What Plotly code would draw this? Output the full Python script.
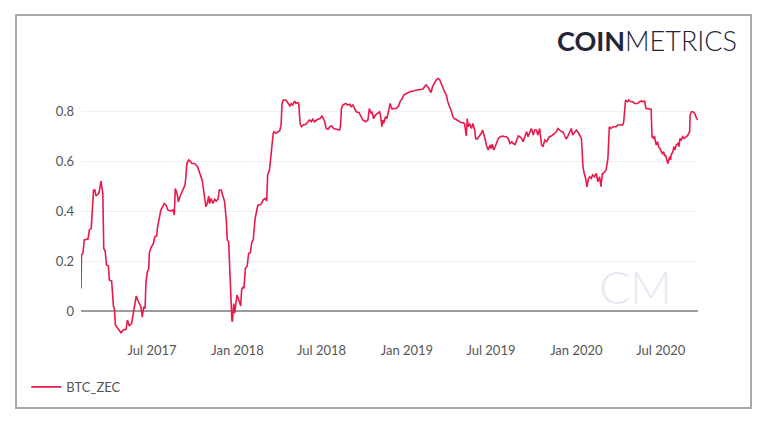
import plotly.graph_objects as go

# BTC_ZEC correlation
dates = [
    "2017-01-29", "2017-01-30", "2017-02-02", "2017-02-05", "2017-02-13", "2017-02-16", "2017-02-20",
    "2017-02-23", "2017-02-25", "2017-02-28", "2017-03-02", "2017-03-08", "2017-03-10", "2017-03-13",
    "2017-03-15", "2017-03-17", "2017-03-19", "2017-03-22", "2017-03-25", "2017-03-29", "2017-03-31",
    "2017-04-05", "2017-04-09", "2017-04-11", "2017-04-13", "2017-04-16", "2017-04-22", "2017-04-25",
    "2017-04-30", "2017-05-06", "2017-05-09", "2017-05-13", "2017-05-18", "2017-05-22", "2017-05-25",
    "2017-05-28", "2017-05-31", "2017-06-03", "2017-06-07", "2017-06-10", "2017-06-13", "2017-06-16",
    "2017-06-18", "2017-06-21", "2017-06-24", "2017-06-25", "2017-06-28", "2017-07-02", "2017-07-04",
    "2017-07-07", "2017-07-11", "2017-07-13", "2017-07-17", "2017-07-20", "2017-07-24", "2017-07-27",
    "2017-07-31", "2017-08-04", "2017-08-09", "2017-08-15", "2017-08-18", "2017-08-20", "2017-08-24",
    "2017-08-27", "2017-08-30", "2017-09-03", "2017-09-07", "2017-09-10", "2017-09-12", "2017-09-14",
    "2017-09-18", "2017-09-21", "2017-09-25", "2017-09-30", "2017-10-04", "2017-10-07", "2017-10-12",
    "2017-10-17", "2017-10-19", "2017-10-23", "2017-10-25", "2017-10-28", "2017-10-31", "2017-11-02",
    "2017-11-05", "2017-11-09", "2017-11-13", "2017-11-16", "2017-11-20", "2017-11-23", "2017-11-27",
    "2017-11-30", "2017-12-04", "2017-12-08", "2017-12-10", "2017-12-13", "2017-12-15", "2017-12-17",
    "2017-12-20", "2017-12-21", "2017-12-24", "2017-12-26", "2017-12-28", "2017-12-31", "2018-01-03",
    "2018-01-06", "2018-01-08", "2018-01-10", "2018-01-13", "2018-01-15", "2018-01-18", "2018-01-22",
    "2018-01-25", "2018-01-29", "2018-02-01", "2018-02-04", "2018-02-06", "2018-02-08", "2018-02-11",
    "2018-02-14", "2018-02-18", "2018-02-22", "2018-02-25", "2018-03-02", "2018-03-05", "2018-03-07",
    "2018-03-11", "2018-03-13", "2018-03-16", "2018-03-19", "2018-03-21", "2018-03-25", "2018-03-29",
    "2018-04-02", "2018-04-05", "2018-04-07", "2018-04-10", "2018-04-15", "2018-04-18", "2018-04-20",
    "2018-04-24", "2018-04-27", "2018-04-30", "2018-05-04", "2018-05-07", "2018-05-11", "2018-05-13",
    "2018-05-16", "2018-05-19", "2018-05-23", "2018-05-28", "2018-06-02", "2018-06-05", "2018-06-09",
    "2018-06-12", "2018-06-16", "2018-06-20", "2018-06-23", "2018-06-28", "2018-07-02", "2018-07-05",
    "2018-07-08", "2018-07-11", "2018-07-15", "2018-07-19", "2018-07-23", "2018-07-27", "2018-08-02",
    "2018-08-09", "2018-08-11", "2018-08-13", "2018-08-16", "2018-08-22", "2018-08-27", "2018-08-31",
    "2018-09-03", "2018-09-07", "2018-09-10", "2018-09-14", "2018-09-20", "2018-09-23", "2018-09-28",
    "2018-10-04", "2018-10-09", "2018-10-12", "2018-10-16", "2018-10-18", "2018-10-21", "2018-10-25",
    "2018-10-30", "2018-11-03", "2018-11-05", "2018-11-08", "2018-11-10", "2018-11-12", "2018-11-16",
    "2018-11-19", "2018-11-23", "2018-11-26", "2018-11-28", "2018-11-30", "2018-12-04", "2018-12-09",
    "2018-12-14", "2018-12-17", "2018-12-22", "2018-12-25", "2018-12-31", "2019-01-07", "2019-01-14",
    "2019-01-21", "2019-01-28", "2019-02-04", "2019-02-08", "2019-02-11", "2019-02-15", "2019-02-18",
    "2019-02-22", "2019-02-25", "2019-03-02", "2019-03-05", "2019-03-09", "2019-03-12", "2019-03-16",
    "2019-03-19", "2019-03-23", "2019-03-27", "2019-03-30", "2019-04-03", "2019-04-06", "2019-04-10",
    "2019-04-13", "2019-04-17", "2019-04-21", "2019-04-24", "2019-04-28", "2019-05-02", "2019-05-05",
    "2019-05-09", "2019-05-11", "2019-05-13", "2019-05-16", "2019-05-20", "2019-05-23", "2019-05-27",
    "2019-05-29", "2019-06-01", "2019-06-05", "2019-06-10", "2019-06-13", "2019-06-16", "2019-06-19",
    "2019-06-21", "2019-06-25", "2019-06-29", "2019-07-01", "2019-07-04", "2019-07-07", "2019-07-10",
    "2019-07-13", "2019-07-17", "2019-07-21", "2019-07-26", "2019-07-31", "2019-08-03", "2019-08-07",
    "2019-08-11", "2019-08-15", "2019-08-18", "2019-08-22", "2019-08-26", "2019-08-29", "2019-09-01",
    "2019-09-05", "2019-09-08", "2019-09-12", "2019-09-16", "2019-09-19", "2019-09-23", "2019-09-26",
    "2019-09-30", "2019-10-03", "2019-10-07", "2019-10-10", "2019-10-14", "2019-10-18", "2019-10-21",
    "2019-10-25", "2019-10-29", "2019-11-01", "2019-11-04", "2019-11-08", "2019-11-12", "2019-11-15",
    "2019-11-19", "2019-11-22", "2019-11-26", "2019-11-30", "2019-12-03", "2019-12-06", "2019-12-10",
    "2019-12-13", "2019-12-17", "2019-12-21", "2019-12-24", "2019-12-28", "2020-01-01", "2020-01-04",
    "2020-01-08", "2020-01-12", "2020-01-15", "2020-01-17", "2020-01-21", "2020-01-24", "2020-01-27",
    "2020-01-30", "2020-02-02", "2020-02-05", "2020-02-09", "2020-02-13", "2020-02-16", "2020-02-20",
    "2020-02-23", "2020-02-26", "2020-02-28", "2020-03-05", "2020-03-09", "2020-03-12", "2020-03-16",
    "2020-03-20", "2020-03-23", "2020-03-27", "2020-03-30", "2020-04-03", "2020-04-07", "2020-04-10",
    "2020-04-12", "2020-04-16", "2020-04-20", "2020-04-23", "2020-04-27", "2020-05-02", "2020-05-05",
    "2020-05-09", "2020-05-12", "2020-05-16", "2020-05-20", "2020-05-23", "2020-05-27", "2020-05-30",
    "2020-06-03", "2020-06-07", "2020-06-10", "2020-06-12", "2020-06-15", "2020-06-17", "2020-06-19",
    "2020-06-21", "2020-06-24", "2020-06-26", "2020-06-29", "2020-07-02", "2020-07-04", "2020-07-07",
    "2020-07-09", "2020-07-11", "2020-07-14", "2020-07-16", "2020-07-20", "2020-07-22", "2020-07-23",
    "2020-07-27", "2020-07-29", "2020-07-31", "2020-08-03", "2020-08-07", "2020-08-09", "2020-08-11",
    "2020-08-14", "2020-08-17", "2020-08-20", "2020-08-24", "2020-08-27", "2020-08-30", "2020-09-01",
    "2020-09-02", "2020-09-05", "2020-09-08", "2020-09-12", "2020-09-16", "2020-09-19",
]
btc_zec = [
    0.09, 0.224, 0.23, 0.284, 0.288, 0.324, 0.33,
    0.457, 0.484, 0.484, 0.46, 0.47, 0.484, 0.52,
    0.497, 0.47, 0.25, 0.24, 0.184, 0.18, 0.124,
    0.12, 0.017, 0.01, -0.056, -0.063, -0.076, -0.087,
    -0.076, -0.073, -0.036, -0.06, -0.05, -0.009, 0.032,
    0.06, 0.044, 0.032, 0.017, -0.025, 0.017, 0.01,
    0.117, 0.157, 0.17, 0.23, 0.25, 0.264, 0.27,
    0.297, 0.30, 0.337, 0.37, 0.404, 0.417, 0.43,
    0.424, 0.404, 0.40, 0.404, 0.384, 0.49, 0.47,
    0.437, 0.457, 0.477, 0.497, 0.504, 0.537, 0.59,
    0.604, 0.60, 0.59, 0.59, 0.584, 0.577, 0.55,
    0.524, 0.497, 0.444, 0.417, 0.43, 0.46, 0.43,
    0.45, 0.43, 0.447, 0.44, 0.447, 0.484, 0.484,
    0.464, 0.44, 0.364, 0.284, 0.277, 0.164, 0.07,
    -0.036, -0.043, 0.03, -0.009, 0.017, 0.064, 0.05,
    0.03, 0.02, 0.084, 0.097, 0.09, 0.17, 0.18,
    0.23, 0.233, 0.277, 0.284, 0.324, 0.37, 0.397,
    0.424, 0.424, 0.43, 0.444, 0.45, 0.44, 0.544,
    0.564, 0.604, 0.65, 0.71, 0.717, 0.71, 0.717,
    0.72, 0.744, 0.83, 0.844, 0.844, 0.837, 0.83,
    0.82, 0.83, 0.824, 0.84, 0.83, 0.834, 0.83,
    0.75, 0.737, 0.744, 0.747, 0.757, 0.764, 0.757,
    0.767, 0.757, 0.764, 0.767, 0.77, 0.78, 0.77,
    0.757, 0.73, 0.727, 0.737, 0.74, 0.73, 0.727,
    0.724, 0.74, 0.81, 0.824, 0.83, 0.824, 0.827,
    0.817, 0.824, 0.81, 0.797, 0.793, 0.784, 0.764,
    0.757, 0.764, 0.81, 0.79, 0.797, 0.77, 0.784,
    0.79, 0.797, 0.784, 0.737, 0.764, 0.75, 0.777,
    0.77, 0.804, 0.83, 0.817, 0.808, 0.81, 0.81,
    0.82, 0.837, 0.85, 0.864, 0.87, 0.877, 0.88,
    0.884, 0.886, 0.887, 0.897, 0.904, 0.897, 0.884,
    0.874, 0.897, 0.917, 0.924, 0.93, 0.927, 0.91,
    0.894, 0.877, 0.864, 0.837, 0.817, 0.804, 0.777,
    0.77, 0.766, 0.76, 0.757, 0.753, 0.754, 0.75,
    0.70, 0.77, 0.737, 0.75, 0.73, 0.75, 0.724,
    0.69, 0.687, 0.697, 0.71, 0.724, 0.707, 0.684,
    0.664, 0.644, 0.664, 0.65, 0.667, 0.644, 0.657,
    0.67, 0.69, 0.697, 0.70, 0.697, 0.697, 0.69,
    0.67, 0.677, 0.67, 0.666, 0.684, 0.70, 0.697,
    0.69, 0.677, 0.697, 0.717, 0.697, 0.717, 0.73,
    0.704, 0.724, 0.724, 0.704, 0.73, 0.664, 0.657,
    0.684, 0.677, 0.69, 0.697, 0.70, 0.704, 0.71,
    0.717, 0.73, 0.724, 0.717, 0.717, 0.704, 0.688,
    0.697, 0.717, 0.73, 0.704, 0.717, 0.724, 0.717,
    0.704, 0.69, 0.584, 0.557, 0.53, 0.497, 0.53,
    0.537, 0.53, 0.544, 0.537, 0.55, 0.517, 0.537,
    0.497, 0.55, 0.55, 0.564, 0.61, 0.737, 0.73,
    0.737, 0.737, 0.737, 0.744, 0.744, 0.747, 0.744,
    0.757, 0.844, 0.837, 0.844, 0.837, 0.837, 0.83,
    0.83, 0.83, 0.837, 0.84, 0.837, 0.84, 0.81,
    0.81, 0.81, 0.807, 0.697, 0.69, 0.70, 0.68,
    0.664, 0.677, 0.657, 0.65, 0.637, 0.63, 0.637,
    0.62, 0.624, 0.60, 0.59, 0.617, 0.604, 0.624,
    0.637, 0.657, 0.644, 0.664, 0.67, 0.657, 0.69,
    0.684, 0.697, 0.69, 0.697, 0.70, 0.71, 0.717,
    0.784, 0.797, 0.797, 0.79, 0.77, 0.765,
]

LINE = "#e8194b"
FONT = "Lato, 'Open Sans', sans-serif"

fig = go.Figure(go.Scatter(
    x=dates, y=btc_zec,
    mode="lines",
    name="BTC_ZEC",
    line=dict(color=LINE, width=1.6),
))

# outer frame
fig.add_shape(
    type="rect", xref="paper", yref="paper",
    x0=-0.1053, x1=1.0859, y0=-0.2759, y1=1.2299,
    line=dict(color="#a9a9a9", width=2), layer="below",
)

# logo
fig.add_annotation(
    xref="paper", yref="paper", x=1.066, y=1.133,
    xanchor="right", yanchor="middle", showarrow=False,
    text="<b>COIN</b><span style='font-weight:300'>METRICS</span>",
    font=dict(family=FONT, size=27, color="#22243a"),
)

# watermark
fig.add_annotation(
    xref="paper", yref="paper", x=0.898, y=0.19,
    xanchor="center", yanchor="middle", showarrow=False,
    text="<span style='font-weight:300'>CM</span>",
    font=dict(family=FONT, size=46, color="#e6e9f2"),
)

fig.update_layout(
    width=768, height=424,
    margin=dict(l=73, r=78, t=67, b=96),
    paper_bgcolor="white", plot_bgcolor="white",
    font=dict(family=FONT, size=13, color="#555"),
    showlegend=True,
    legend=dict(
        orientation="h", x=-0.0887, y=-0.195, xanchor="left", yanchor="middle",
        font=dict(size=13, color="#555"), bgcolor="rgba(0,0,0,0)",
    ),
    xaxis=dict(
        range=["2017-01-29", "2020-09-19"],
        tickformat="%b %Y", dtick="M6", tick0="2017-07-01",
        showgrid=False, zeroline=False, showline=False, ticks="",
        ticklabelstandoff=5,
    ),
    yaxis=dict(
        range=[-0.1, 0.944],
        tickvals=[0, 0.2, 0.4, 0.6, 0.8],
        ticktext=["0", "0.2", "0.4", "0.6", "0.8"],
        showgrid=True, gridcolor="#f0f0f0", gridwidth=1,
        zeroline=True, zerolinecolor="#9c9c9c", zerolinewidth=2,
        showline=False, ticks="", ticklabelstandoff=6,
    ),
)

fig.write_html("out.html")
